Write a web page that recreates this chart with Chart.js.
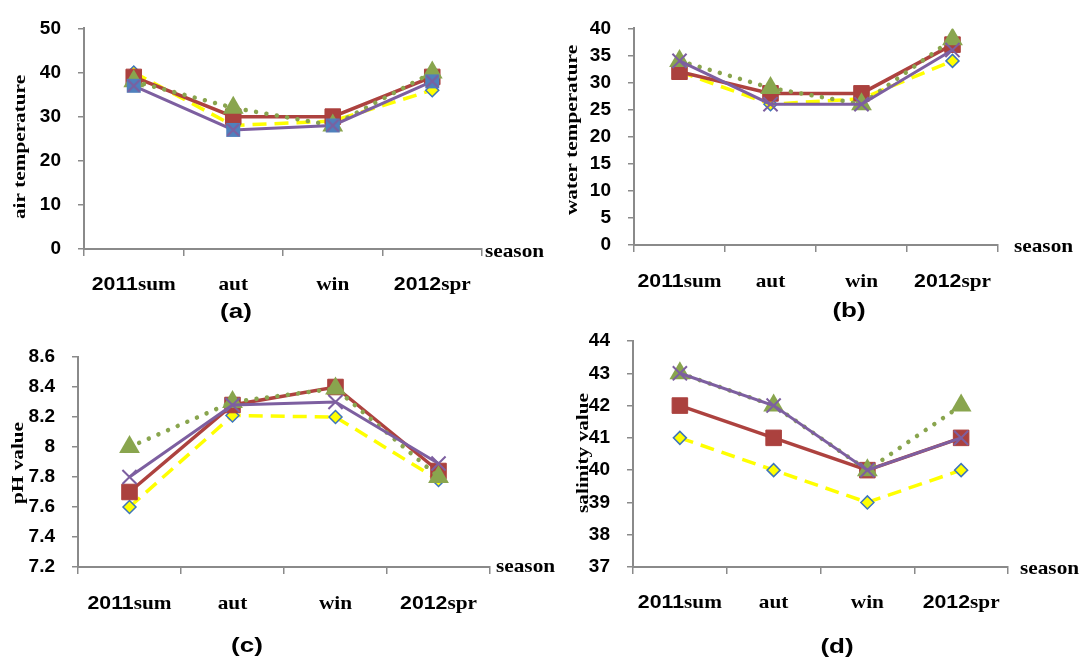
<!DOCTYPE html>
<html>
<head>
<meta charset="utf-8">
<script src="https://cdn.jsdelivr.net/npm/chart.js@4.4.1/dist/chart.umd.min.js"></script>
<style>
  html, body { margin: 0; padding: 0; background: #fff; }
  #wrap { position: relative; width: 1081px; height: 664px; overflow: hidden; }
  #wrap canvas { position: absolute; left: 0; top: 0; }
</style>
</head>
<body>
<div id="wrap">
  <canvas id="ca" width="1081" height="664"></canvas>
  <canvas id="cb" width="1081" height="664"></canvas>
  <canvas id="cc" width="1081" height="664"></canvas>
  <canvas id="cd" width="1081" height="664"></canvas>
</div>
<script>
const seasons = ['2011sum', 'aut', 'win', '2012spr'];

// (a) air temperature
const airYellow = [40, 28, 29, 36];
const airRed = [39, 30, 30, 39];
const airGreen = [38, 32, 28, 40];
const airPurple = [37, 27, 28, 38];

// (b) water temperature
const waterYellow = [32, 26, 27, 34];
const waterRed = [32, 28, 28, 37];
const waterGreen = [34, 29, 26, 38];
const waterPurple = [34, 26, 26, 36];

// (c) pH value
const phYellow = [7.6, 8.21, 8.2, 7.78];
const phRed = [7.7, 8.28, 8.4, 7.84];
const phGreen = [8.0, 8.3, 8.39, 7.8];
const phPurple = [7.8, 8.28, 8.3, 7.89];

// (d) salinity value
const salYellow = [41, 40, 39, 40];
const salRed = [42, 41, 40, 41];
const salGreen = [43, 42, 40, 42];
const salPurple = [43, 42, 40, 41];

const W = 1081, H = 664;
const Y_W = 80, X_H = 20;
const AXIS = '#8a8a8a';
const SANS = '"Liberation Sans", Arial, sans-serif';
const SERIF = '"Liberation Serif", "Times New Roman", serif';

// blue square with a purple cross, used only in panel (a)
function boxCross() {
  const c = document.createElement('canvas');
  c.width = 16; c.height = 16;
  const g = c.getContext('2d');
  g.fillStyle = '#4f81bd';
  g.fillRect(1, 1, 14, 14);
  g.strokeStyle = '#7d5fa0';
  g.lineWidth = 2;
  g.beginPath();
  g.moveTo(2, 2); g.lineTo(14, 14);
  g.moveTo(14, 2); g.lineTo(2, 14);
  g.stroke();
  return c;
}

function makeSets(yellow, red, green, purple, boxed) {
  // last one in the array is drawn first, so yellow ends up underneath
  return [
    { data: purple, borderColor: '#7d5fa0', borderWidth: 3,
      pointStyle: boxed ? boxCross() : 'crossRot', pointRadius: 10,
      pointBorderColor: '#7d5fa0', pointBackgroundColor: '#7d5fa0', pointBorderWidth: 2 },
    { data: green, borderColor: '#89a54e', borderWidth: 4.5,
      borderDash: [0.01, 10.5], borderCapStyle: 'round',
      pointStyle: 'triangle', pointRadius: 12,
      pointBackgroundColor: '#89a54e', pointBorderWidth: 0 },
    { data: red, borderColor: '#ad423f', borderWidth: 3.5,
      pointStyle: 'rect', pointRadius: 11,
      pointBackgroundColor: '#ab413e', pointBorderColor: '#ab413e', pointBorderWidth: 1 },
    { data: yellow, borderColor: '#ffff00', borderWidth: 3.5, borderDash: [14, 8],
      pointStyle: 'rectRot', pointRadius: 6.5,
      pointBackgroundColor: '#ffff00', pointBorderColor: '#3e75bb', pointBorderWidth: 1.5 }
  ];
}

function stretchText(ctx, text, x, y, font, sx, align) {
  ctx.save();
  ctx.font = font;
  const w = ctx.measureText(text).width * sx;
  const left = align === 'center' ? x - w / 2 : x;
  ctx.translate(left, y);
  ctx.scale(sx, 1);
  ctx.textAlign = 'left';
  ctx.textBaseline = 'middle';
  ctx.fillStyle = '#000';
  ctx.fillText(text, 0, 0);
  ctx.restore();
}

function drawTexts(chart, p) {
  const ctx = chart.ctx;
  const xs = chart.scales.x;
  const fNum = 'bold 19px ' + SANS, fWord = 'bold 19px ' + SERIF;
  const sx = 1.12;

  // category labels: digits in sans, words in serif
  seasons.forEach((lab, i) => {
    const m = lab.match(/^(\d*)(.*)$/);
    ctx.save();
    ctx.font = fNum; const w1 = ctx.measureText(m[1]).width * sx;
    ctx.font = fWord; const w2 = ctx.measureText(m[2]).width * sx;
    ctx.restore();
    const cx = xs.getPixelForValue(i);
    const left = cx - (w1 + w2) / 2;
    if (m[1]) stretchText(ctx, m[1], left, p.labelY, fNum, sx, 'left');
    stretchText(ctx, m[2], left + w1, p.labelY, fWord, sx, 'left');
  });

  // y title, rotated
  ctx.save();
  ctx.translate(p.title.x, p.title.y);
  ctx.rotate(-Math.PI / 2);
  ctx.scale(1.25, 1);
  ctx.font = 'bold 17px ' + SERIF;
  ctx.textAlign = 'center';
  ctx.textBaseline = 'middle';
  ctx.fillStyle = '#000';
  ctx.fillText(p.title.text, 0, 0);
  ctx.restore();

  stretchText(ctx, 'season', p.season.x, p.season.y, 'bold 19px ' + SERIF, 1.12, 'left');
  stretchText(ctx, p.caption.text, p.caption.x, p.caption.y, 'bold 20px ' + SANS, 1.3, 'center');
}

const panels = [
  { id: 'ca', area: { left: 84, top: 16, right: 482, bottom: 249 },
    y: { min: 0, max: 50, step: 10 },
    sets: makeSets(airYellow, airRed, airGreen, airPurple, true),
    title: { text: 'air temperature', x: 21, y: 147 },
    season: { x: 485, y: 252 }, caption: { text: '(a)', x: 236, y: 312 }, labelY: 285 },
  { id: 'cb', area: { left: 634, top: 16, right: 998, bottom: 245 },
    y: { min: 0, max: 40, step: 5 },
    sets: makeSets(waterYellow, waterRed, waterGreen, waterPurple, false),
    title: { text: 'water temperature', x: 573, y: 130 },
    season: { x: 1014, y: 247 }, caption: { text: '(b)', x: 849, y: 311 }, labelY: 282 },
  { id: 'cc', area: { left: 78, top: 357, right: 490, bottom: 567 },
    y: { min: 7.2, max: 8.6, step: 0.2 },
    sets: makeSets(phYellow, phRed, phGreen, phPurple, false),
    title: { text: 'pH value', x: 19, y: 463 },
    season: { x: 496, y: 567 }, caption: { text: '(c)', x: 247, y: 646 }, labelY: 604 },
  { id: 'cd', area: { left: 633, top: 341, right: 1008, bottom: 567 },
    y: { min: 37, max: 44, step: 1 },
    sets: makeSets(salYellow, salRed, salGreen, salPurple, false),
    title: { text: 'salinity value', x: 584, y: 453 },
    season: { x: 1020, y: 569 }, caption: { text: '(d)', x: 837, y: 647 }, labelY: 603 }
];

panels.forEach((p) => {
  const a = p.area;
  new Chart(document.getElementById(p.id), {
    type: 'line',
    data: { labels: seasons, datasets: p.sets },
    options: {
      responsive: false,
      animation: false,
      events: [],
      layout: {
        padding: { left: a.left - Y_W, right: W - a.right, top: a.top, bottom: H - a.bottom - X_H }
      },
      elements: { line: { tension: 0, fill: false } },
      plugins: { legend: { display: false }, tooltip: { enabled: false } },
      scales: {
        x: {
          type: 'category',
          offset: true,
          afterFit: (s) => { s.height = X_H; },
          grid: { offset: true, drawOnChartArea: false, drawTicks: true, tickLength: 7, color: AXIS, lineWidth: 1.5 },
          border: { color: AXIS, width: 2 },
          ticks: { display: false }
        },
        y: {
          min: p.y.min, max: p.y.max,
          afterFit: (s) => { s.width = Y_W; },
          grid: { drawOnChartArea: false, drawTicks: true, tickLength: 6, color: AXIS, lineWidth: 1.5 },
          border: { color: AXIS, width: 2 },
          ticks: {
            stepSize: p.y.step, padding: 17, color: '#000',
            font: { family: SANS, size: 19, weight: 'bold' },
            callback: (v) => String(Math.round(v * 10) / 10)
          }
        }
      }
    },
    plugins: [{ id: 'panelText', afterDraw: (chart) => drawTexts(chart, p) }]
  });
});
</script>
</body>
</html>
